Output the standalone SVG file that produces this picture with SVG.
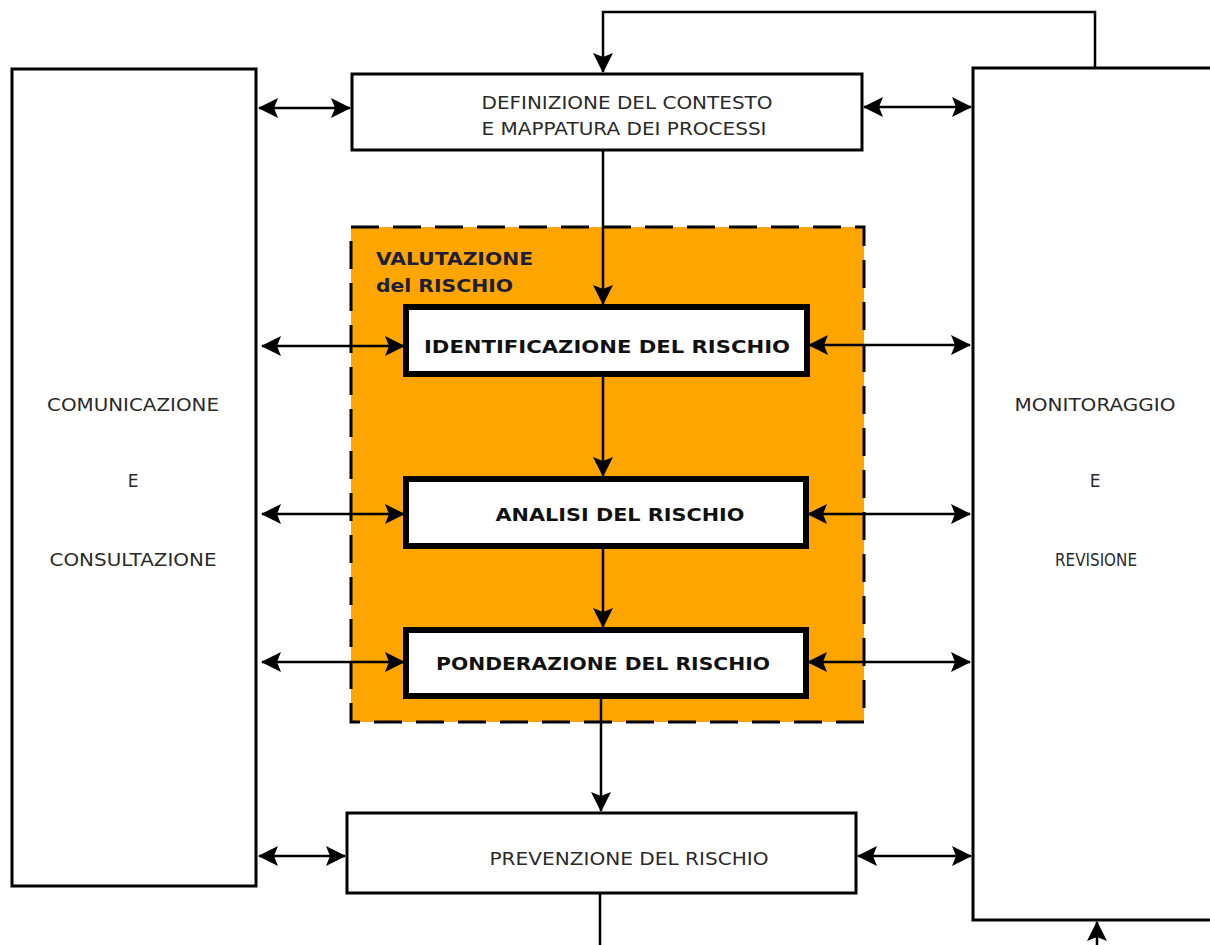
<svg xmlns="http://www.w3.org/2000/svg" width="1210" height="945" viewBox="0 0 1210 945">
<style>
.box{fill:#fff;stroke:#000;stroke-width:3}
.tbox{fill:#fff;stroke:#000;stroke-width:6}
.t{font-family:"DejaVu Sans","Liberation Sans",sans-serif;font-size:17px;fill:#2a2a2a;text-anchor:middle}
.b{font-family:"DejaVu Sans","Liberation Sans",sans-serif;font-size:18px;font-weight:bold;fill:#111;text-anchor:middle}
.v{font-family:"DejaVu Sans","Liberation Sans",sans-serif;font-size:17px;font-weight:bold;fill:#1e1e3c}
.c{fill:none;stroke:#000;stroke-width:2.5}
</style>
<defs>
<marker id="ah" viewBox="0 0 20 20" refX="19" refY="10" markerWidth="20" markerHeight="20" markerUnits="userSpaceOnUse" orient="auto-start-reverse">
<path d="M0,0 L20,10 L0,20 L4,10 Z" fill="#000"/>
</marker>
</defs>
<rect width="1210" height="945" fill="#fff"/>
<g id="valutazione">
<rect x="351" y="227" width="513" height="495" fill="#FFA500" stroke="#000" stroke-width="3" stroke-dasharray="28,14"/>
<text class="v" x="376" y="265" textLength="157" lengthAdjust="spacingAndGlyphs">VALUTAZIONE</text>
<text class="v" x="376" y="292" textLength="137" lengthAdjust="spacingAndGlyphs">del RISCHIO</text>
</g>
<g id="comunicazione">
<rect class="box" x="12" y="69" width="244" height="817"/>
<text class="t" x="133" y="411" textLength="172" lengthAdjust="spacingAndGlyphs">COMUNICAZIONE</text>
<text class="t" x="133" y="487">E</text>
<text class="t" x="133" y="566" textLength="167" lengthAdjust="spacingAndGlyphs">CONSULTAZIONE</text>
</g>
<g id="monitoraggio">
<rect class="box" x="973" y="68" width="250" height="852"/>
<text class="t" x="1095" y="411" textLength="161" lengthAdjust="spacingAndGlyphs">MONITORAGGIO</text>
<text class="t" x="1095" y="487">E</text>
<text class="t" x="1096" y="566" textLength="82" lengthAdjust="spacingAndGlyphs">REVISIONE</text>
</g>
<g id="definizione">
<rect class="box" x="352" y="74" width="510" height="76"/>
<text class="t" x="627" y="109" textLength="291" lengthAdjust="spacingAndGlyphs">DEFINIZIONE DEL CONTESTO</text>
<text class="t" x="624" y="135" textLength="285" lengthAdjust="spacingAndGlyphs">E MAPPATURA DEI PROCESSI</text>
</g>
<g id="identificazione">
<rect class="tbox" x="406" y="307" width="401" height="67"/>
<text class="b" x="607" y="353" textLength="366" lengthAdjust="spacingAndGlyphs">IDENTIFICAZIONE DEL RISCHIO</text>
</g>
<g id="analisi">
<rect class="tbox" x="406" y="479" width="400" height="67"/>
<text class="b" x="620" y="521" textLength="249" lengthAdjust="spacingAndGlyphs">ANALISI DEL RISCHIO</text>
</g>
<g id="ponderazione">
<rect class="tbox" x="406" y="630" width="400" height="66"/>
<text class="b" x="603" y="670" textLength="334" lengthAdjust="spacingAndGlyphs">PONDERAZIONE DEL RISCHIO</text>
</g>
<g id="prevenzione">
<rect class="box" x="347" y="813" width="509" height="80"/>
<text class="t" x="629" y="865" textLength="279" lengthAdjust="spacingAndGlyphs">PREVENZIONE DEL RISCHIO</text>
</g>
<g id="connectors">
<path class="c" d="M1095,68 V12 H603 V72" marker-end="url(#ah)"/>
<path class="c" d="M603,150 V304" marker-end="url(#ah)"/>
<path class="c" d="M603,377 V476" marker-end="url(#ah)"/>
<path class="c" d="M603,549 V627" marker-end="url(#ah)"/>
<path class="c" d="M601,699 V811" marker-end="url(#ah)"/>
<path class="c" d="M600,893 V950 H1097 V922" marker-end="url(#ah)"/>
<path class="c" d="M259,108 H350" marker-start="url(#ah)" marker-end="url(#ah)"/>
<path class="c" d="M864,107 H971" marker-start="url(#ah)" marker-end="url(#ah)"/>
<path class="c" d="M262,346 H404" marker-start="url(#ah)" marker-end="url(#ah)"/>
<path class="c" d="M809,345 H970" marker-start="url(#ah)" marker-end="url(#ah)"/>
<path class="c" d="M262,514 H404" marker-start="url(#ah)" marker-end="url(#ah)"/>
<path class="c" d="M808,514 H970" marker-start="url(#ah)" marker-end="url(#ah)"/>
<path class="c" d="M262,662 H404" marker-start="url(#ah)" marker-end="url(#ah)"/>
<path class="c" d="M808,662 H970" marker-start="url(#ah)" marker-end="url(#ah)"/>
<path class="c" d="M259,856 H345" marker-start="url(#ah)" marker-end="url(#ah)"/>
<path class="c" d="M858,856 H971" marker-start="url(#ah)" marker-end="url(#ah)"/>
</g>
</svg>
